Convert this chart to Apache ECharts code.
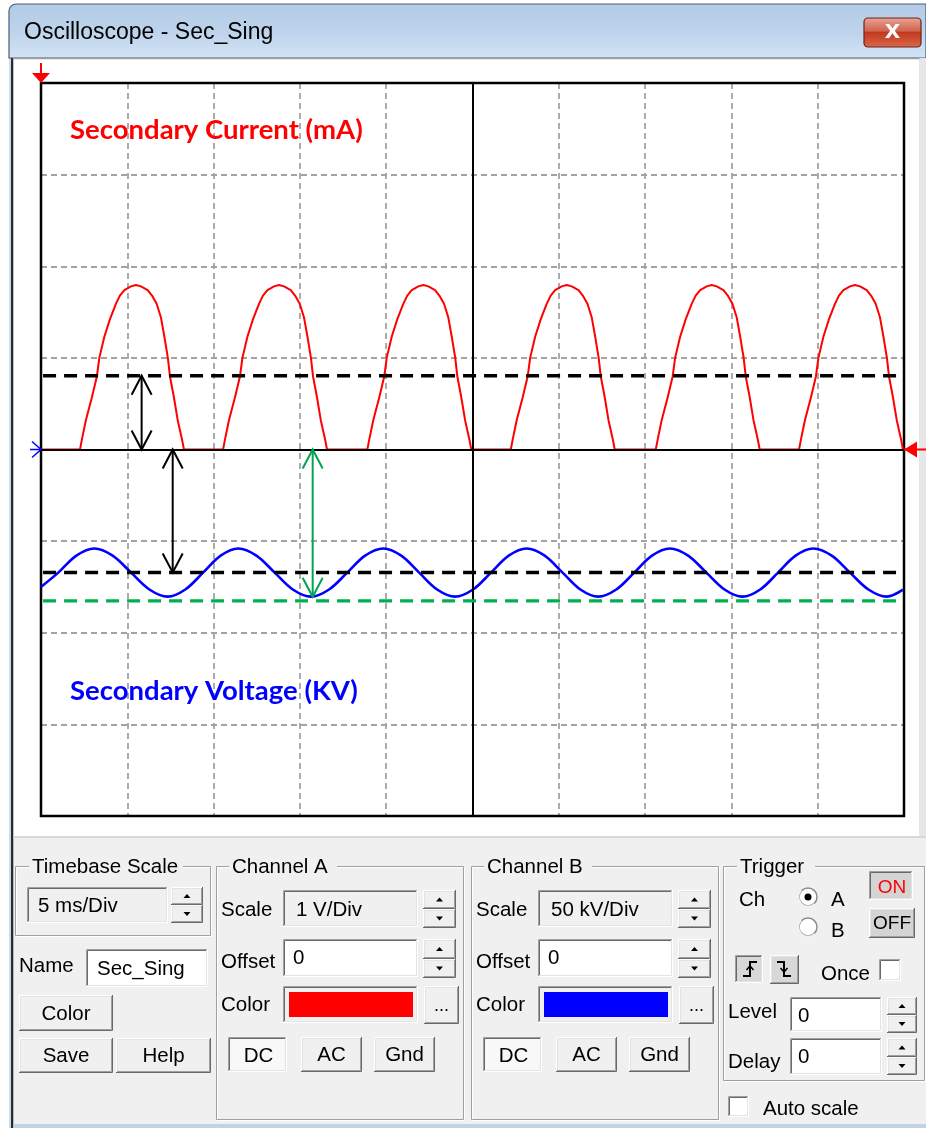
<!DOCTYPE html>
<html>
<head>
<meta charset="utf-8">
<script src="https://cdn.jsdelivr.net/npm/echarts@6/dist/echarts.min.js"></script>
<style>
html,body{margin:0;padding:0;background:#fff;}
#chart{width:926px;height:1128px;}
</style>
</head>
<body>
<div id="chart"></div>
<script>
// ---------------- DATA ----------------
// Time axis: 5 ms/Div, 10 divisions
const timeMin = 0, timeMax = 50, timeStep = 5;
// Channel A (current) in divisions, Channel B (voltage) in kV (50 kV/Div)
const chanAMin = -4, chanAMax = 4, chanAStep = 1;
const chanBMin = -200, chanBMax = 200, chanBStep = 50;

// Secondary current (channel A, red) - time in ms
const currentTime = [
  0,
  2.26, 2.37, 2.60, 2.95, 3.24, 3.38, 3.67, 3.99, 4.34, 4.57, 4.83, 5.21, 5.50, 5.79, 6.18, 6.43, 6.70, 6.95, 7.15, 7.35, 7.47, 7.70, 7.92, 8.17, 8.28,
  10.55, 10.66, 10.89, 11.24, 11.53, 11.67, 11.96, 12.28, 12.63, 12.86, 13.12, 13.50, 13.79, 14.08, 14.47, 14.72, 14.99, 15.24, 15.44, 15.64, 15.76, 15.99, 16.21, 16.46, 16.57,
  18.91, 19.02, 19.25, 19.60, 19.89, 20.03, 20.32, 20.64, 20.99, 21.22, 21.48, 21.86, 22.15, 22.44, 22.83, 23.08, 23.35, 23.60, 23.80, 24.00, 24.12, 24.35, 24.57, 24.82, 24.93,
  27.22, 27.33, 27.56, 27.91, 28.20, 28.34, 28.63, 28.95, 29.30, 29.53, 29.79, 30.17, 30.46, 30.75, 31.14, 31.39, 31.66, 31.91, 32.11, 32.31, 32.43, 32.66, 32.88, 33.13, 33.24,
  35.62, 35.73, 35.96, 36.31, 36.60, 36.74, 37.03, 37.35, 37.70, 37.93, 38.19, 38.57, 38.86, 39.15, 39.54, 39.79, 40.06, 40.31, 40.51, 40.71, 40.83, 41.06, 41.28, 41.53, 41.64,
  43.92, 44.03, 44.26, 44.61, 44.90, 45.04, 45.33, 45.65, 46.00, 46.23, 46.49, 46.87, 47.16, 47.45, 47.84, 48.09, 48.36, 48.61, 48.81, 49.01, 49.13, 49.36, 49.58, 49.83, 49.94
];
const currentValue = [
  0,
  0, 0.11, 0.32, 0.57, 0.80, 1.00, 1.23, 1.42, 1.59, 1.68, 1.74, 1.78, 1.795, 1.78, 1.74, 1.68, 1.59, 1.44, 1.23, 1.00, 0.80, 0.57, 0.32, 0.11, 0,
  0, 0.11, 0.32, 0.57, 0.80, 1.00, 1.23, 1.42, 1.59, 1.68, 1.74, 1.78, 1.795, 1.78, 1.74, 1.68, 1.59, 1.44, 1.23, 1.00, 0.80, 0.57, 0.32, 0.11, 0,
  0, 0.11, 0.32, 0.57, 0.80, 1.00, 1.23, 1.42, 1.59, 1.68, 1.74, 1.78, 1.795, 1.78, 1.74, 1.68, 1.59, 1.44, 1.23, 1.00, 0.80, 0.57, 0.32, 0.11, 0,
  0, 0.11, 0.32, 0.57, 0.80, 1.00, 1.23, 1.42, 1.59, 1.68, 1.74, 1.78, 1.795, 1.78, 1.74, 1.68, 1.59, 1.44, 1.23, 1.00, 0.80, 0.57, 0.32, 0.11, 0,
  0, 0.11, 0.32, 0.57, 0.80, 1.00, 1.23, 1.42, 1.59, 1.68, 1.74, 1.78, 1.795, 1.78, 1.74, 1.68, 1.59, 1.44, 1.23, 1.00, 0.80, 0.57, 0.32, 0.11, 0,
  0, 0.11, 0.32, 0.57, 0.80, 1.00, 1.23, 1.42, 1.59, 1.68, 1.74, 1.78, 1.795, 1.78, 1.74, 1.68, 1.59, 1.44, 1.23, 1.00, 0.80, 0.57, 0.32, 0.11, 0
];

// Secondary voltage (channel B, blue) - time in ms, value in kV
const voltageTime = [
  0, 1.00, 2.05, 3.09, 4.15, 5.22, 6.28, 7.34, 8.36, 9.39, 10.41, 11.43, 12.48, 13.54, 14.59, 15.64,
  16.69, 17.74, 18.78, 19.83, 20.87, 21.91, 22.95, 23.99, 25.03, 26.07, 27.10, 28.14, 29.18, 30.22, 31.25, 32.29,
  33.33, 34.37, 35.40, 36.44, 37.49, 38.55, 39.60, 40.65, 41.67, 42.70, 43.72, 44.74, 45.81, 46.87, 47.94, 49.00, 49.94
];
const voltageValue = [
  -75.0, -67.2, -57.9, -54.0, -57.9, -67.2, -76.4, -80.3, -76.4, -67.2, -57.9, -54.0, -57.9, -67.2, -76.4, -80.3,
  -76.4, -67.2, -57.9, -54.0, -57.9, -67.2, -76.4, -80.3, -76.4, -67.2, -57.9, -54.0, -57.9, -67.2, -76.4, -80.3,
  -76.4, -67.2, -57.9, -54.0, -57.9, -67.2, -76.4, -80.3, -76.4, -67.2, -57.9, -54.0, -57.9, -67.2, -76.4, -80.3, -76.5
];

// Reference levels (dashed lines)
const currentMeanLevel = 0.805;   // channel A divisions
const voltageMeanLevel = -67.1;   // kV
const voltageMinLevel = -82.6;    // kV
const refLineStart = 0.12, refLineEnd = 49.6;

// Double arrows: [time, from, to]
const currentArrow = [[5.83, 0, 0.805]];
const voltageArrow = [[7.63, 0, -67.1]];
const troughArrow = [[15.74, 0, -80.4]];

// Texts
const titleText = 'Oscilloscope - Sec_Sing';
const currentLabel = 'Secondary Current (mA)';
const voltageLabel = 'Secondary Voltage (KV)';

// ---------------- CHART ----------------
const chart = echarts.init(document.getElementById('chart'), null, {renderer: 'canvas'});
const zip = (a, b) => a.map((v, i) => [v, b[i]]);

const UIFONT = '"Liberation Sans", Arial, sans-serif';
const G = [];
function R(x, y, w, h, fill, z, extra) {
  G.push({type: 'rect', silent: true, z: z == null ? -5 : z, shape: Object.assign({x, y, width: w, height: h}, extra && extra.shape || {}),
    style: Object.assign({fill: fill}, extra && extra.style || {})});
}
function L(points, stroke, lw, z) {
  G.push({type: 'polyline', silent: true, z: z == null ? -4 : z, shape: {points}, style: {stroke, lineWidth: lw || 1, fill: null}});
}
function P(points, fill, z) {
  G.push({type: 'polygon', silent: true, z: z == null ? -4 : z, shape: {points}, style: {fill}});
}
function T(x, y, text, opt) {
  const o = Object.assign({size: 20.5, color: '#000', align: 'left', weight: 'normal', family: UIFONT, z: -3}, opt || {});
  G.push({type: 'text', silent: true, z: o.z, x, y, style: {
    text, fill: o.color, font: o.weight + ' ' + o.size + 'px ' + o.family,
    align: o.align, textAlign: o.align, verticalAlign: 'middle', textVerticalAlign: 'middle'}});
}
function raised(x, y, w, h, face) {
  R(x, y, w, h, face || '#f0f0f0');
  L([[x + 0.5, y + h - 1], [x + 0.5, y + 0.5], [x + w - 1, y + 0.5]], '#ffffff');
  L([[x + 1.5, y + h - 2], [x + 1.5, y + 1.5], [x + w - 2, y + 1.5]], '#e3e3e3');
  L([[x, y + h - 0.5], [x + w - 0.5, y + h - 0.5], [x + w - 0.5, y]], '#696969');
  L([[x + 1, y + h - 1.5], [x + w - 1.5, y + h - 1.5], [x + w - 1.5, y + 1]], '#a0a0a0');
}
function sunken(x, y, w, h, fill) {
  R(x, y, w, h, fill || '#ffffff');
  L([[x + 0.5, y + h - 1], [x + 0.5, y + 0.5], [x + w - 1, y + 0.5]], '#a0a0a0');
  L([[x + 1.5, y + h - 2], [x + 1.5, y + 1.5], [x + w - 2, y + 1.5]], '#696969');
  L([[x, y + h - 0.5], [x + w - 0.5, y + h - 0.5], [x + w - 0.5, y]], '#ffffff');
  L([[x + 1, y + h - 1.5], [x + w - 1.5, y + h - 1.5], [x + w - 1.5, y + 1]], '#e3e3e3');
}
function button(x, y, w, h, label, opt) {
  raised(x, y, w, h, opt && opt.face);
  T(x + w / 2, y + h / 2 + 1, label, Object.assign({align: 'center'}, opt || {}));
}
function pressed(x, y, w, h, label, opt) {
  sunken(x, y, w, h, (opt && opt.face) || '#f8f8f8');
  T(x + w / 2 + 1, y + h / 2 + 2, label, Object.assign({align: 'center'}, opt || {}));
}
function spin(x, y, w, h) {
  const h2 = Math.round(h / 2);
  raised(x, y, w, h2);
  raised(x, y + h2, w, h - h2);
  const cx = x + w / 2;
  P([[cx - 3.5, y + h2 / 2 + 2], [cx + 3.5, y + h2 / 2 + 2], [cx, y + h2 / 2 - 2]], '#000');
  P([[cx - 3.5, y + h2 + (h - h2) / 2 - 2], [cx + 3.5, y + h2 + (h - h2) / 2 - 2], [cx, y + h2 + (h - h2) / 2 + 2]], '#000');
}
function groupBox(x, y, w, h, label, labelX, labelW) {
  G.push({type: 'rect', silent: true, z: -4, shape: {x: x + 1.5, y: y + 1.5, width: w, height: h}, style: {fill: null, stroke: '#ffffff', lineWidth: 1}});
  G.push({type: 'rect', silent: true, z: -4, shape: {x: x + 0.5, y: y + 0.5, width: w, height: h}, style: {fill: null, stroke: '#a0a0a0', lineWidth: 1}});
  R(labelX - 3, y - 10, labelW + 6, 20, '#f0f0f0', -3.5);
  T(labelX, y + 1, label);
}
function checkbox(x, y, s) { sunken(x, y, s, s, '#ffffff'); }

// ---- window chrome ----
R(0, 0, 926, 1128, '#ffffff', -10);
R(9, 4, 917, 1124, '#c9dbee', -9, {shape: {r: [7, 0, 0, 0]}});
G.push({type: 'rect', silent: true, z: -8, shape: {x: 9, y: 4, width: 917, height: 54, r: [7, 0, 0, 0]},
  style: {fill: new echarts.graphic.LinearGradient(0, 0, 0, 1, [{offset: 0, color: '#b3cbe6'}, {offset: 0.5, color: '#bdd3eb'}, {offset: 1, color: '#d3e3f4'}]),
    stroke: '#4c5d70', lineWidth: 1.2}});
T(24, 33, titleText, {size: 23, z: -3});
// close button
G.push({type: 'rect', silent: true, z: -3, shape: {x: 864, y: 18, width: 57, height: 29, r: 4},
  style: {fill: new echarts.graphic.LinearGradient(0, 0, 0, 1, [{offset: 0, color: '#e8a597'}, {offset: 0.45, color: '#d0654f'}, {offset: 0.5, color: '#c2391f'}, {offset: 1, color: '#d96a4a'}]),
    stroke: '#6e2418', lineWidth: 1.2}});
T(892.5, 33, 'X', {size: 20, weight: 'bold', color: '#ffffff', align: 'center', z: -2, family: '"DejaVu Sans", sans-serif'});
// dark left frame line & panels
R(11, 58, 2.5, 1070, '#2b2b2b', -7);
R(13.5, 58, 906, 778, '#ffffff', -7);
R(13.5, 58, 906, 1.2, '#a0a0a0', -6);
R(919, 58, 7, 778, '#e6e6e6', -7);
R(13.5, 836, 912.5, 292, '#f0f0f0', -7);
R(13.5, 836, 912.5, 2, '#d8d8d8', -6);
R(13.5, 1124, 912.5, 4, '#c3d3e4', -6);

// ---- control panel ----
groupBox(15, 866, 195, 69, 'Timebase Scale', 32, 148);
sunken(27, 887, 141, 36, '#f0f0f0');
T(38, 906, '5 ms/Div');
spin(171, 887, 32, 36);
T(19, 966, 'Name');
sunken(86, 949, 122, 38, '#ffffff');
T(97, 969, 'Sec_Sing');
button(19, 995, 94, 36, 'Color');
button(19, 1038, 94, 35, 'Save');
button(116, 1038, 95, 35, 'Help');

function channel(x0, label, scaleText, color) {
  groupBox(x0, 866, 247, 253, label, x0 + 16, 102);
  T(x0 + 5, 910, 'Scale');
  sunken(x0 + 67, 890, 135, 37, '#f0f0f0');
  T(x0 + 80, 910, scaleText);
  spin(x0 + 207, 890, 33, 38);
  T(x0 + 5, 962, 'Offset');
  sunken(x0 + 67, 939, 135, 38, '#ffffff');
  T(x0 + 77, 958, '0');
  spin(x0 + 207, 939, 33, 39);
  T(x0 + 5, 1005, 'Color');
  sunken(x0 + 67, 986, 135, 37, '#f0f0f0');
  R(x0 + 73, 992, 124, 25, color, -2);
  button(x0 + 208, 986, 35, 38, '...', {size: 18});
  pressed(x0 + 12, 1037, 59, 35, 'DC');
  button(x0 + 85, 1037, 61, 35, 'AC');
  button(x0 + 158, 1037, 61, 35, 'Gnd');
}
channel(216, 'Channel A', '1 V/Div', '#ff0000');
channel(471, 'Channel B', '50 kV/Div', '#0000ff');

// trigger
groupBox(723, 866, 201, 214, 'Trigger', 740, 72);
T(739, 900, 'Ch');
function radio(cx, cy, on) {
  G.push({type: 'circle', silent: true, z: -3, shape: {cx, cy, r: 9}, style: {fill: '#ffffff', stroke: '#8c8c8c', lineWidth: 1.5}});
  G.push({type: 'arc', silent: true, z: -2, shape: {cx, cy, r: 9.5, startAngle: Math.PI * 0.25, endAngle: Math.PI * 1.25, clockwise: true}, style: {stroke: '#f4f4f4', lineWidth: 1.5, fill: null}});
  if (on) G.push({type: 'circle', silent: true, z: -2, shape: {cx, cy, r: 3.5}, style: {fill: '#000'}});
}
radio(808, 897, true);
T(831, 900, 'A');
radio(808, 927, false);
T(831, 931, 'B');
pressed(869, 871, 44, 29, 'ON', {color: '#ff0000', face: '#d4d4d4', size: 19, family: '"Liberation Sans Narrow", "Liberation Sans", sans-serif'});
button(869, 908, 46, 30, 'OFF', {face: '#d4d4d4', size: 19, family: '"Liberation Sans Narrow", "Liberation Sans", sans-serif'});
sunken(735, 955, 28, 28, '#d8d8d8');
L([[743, 976], [750, 976], [750, 962], [757, 962]], '#000', 2, -2);
L([[746.5, 970], [750, 966], [753.5, 970]], '#000', 1.5, -2);
raised(770, 955, 29, 29, '#d8d8d8');
L([[777, 962], [784, 962], [784, 976], [791, 976]], '#000', 2, -2);
L([[780.5, 968], [784, 972], [787.5, 968]], '#000', 1.5, -2);
T(821, 974, 'Once');
checkbox(879, 959, 22);
T(728, 1012, 'Level');
sunken(790, 997, 92, 35, '#ffffff');
T(798, 1016, '0');
spin(887, 997, 30, 36);
T(728, 1062, 'Delay');
sunken(790, 1038, 92, 37, '#ffffff');
T(798, 1057, '0');
spin(887, 1038, 30, 37);
checkbox(728, 1096, 21);
T(763, 1109, 'Auto scale');

// ---- annotation texts inside the plot ----
T(70, 130, currentLabel, {size: 27.5, weight: 'bold', color: '#ff0000', family: 'Lato, "Open Sans", sans-serif', z: 50});
T(70, 691, voltageLabel, {size: 27.5, weight: 'bold', color: '#0000ff', family: 'Lato, "Open Sans", sans-serif', z: 50});

function arrowRender(color) {
  return function (params, api) {
    const t = api.value(0), a = api.value(1), b = api.value(2);
    const p1 = api.coord([t, a]), p2 = api.coord([t, b]);
    const s1 = p2[1] > p1[1] ? 1 : -1;
    const st = {stroke: color, lineWidth: 2, fill: null};
    return {type: 'group', children: [
      {type: 'line', shape: {x1: p1[0], y1: p1[1], x2: p2[0], y2: p2[1]}, style: st},
      {type: 'polyline', shape: {points: [[p1[0] - 10, p1[1] + s1 * 19], p1, [p1[0] + 10, p1[1] + s1 * 19]]}, style: st},
      {type: 'polyline', shape: {points: [[p2[0] - 10, p2[1] - s1 * 19], p2, [p2[0] + 10, p2[1] - s1 * 19]]}, style: st}
    ]};
  };
}
const gridLine = {show: true, lineStyle: {color: '#a3a3a3', width: 1.8, type: [6, 4]}, showMinLine: false, showMaxLine: false};

const option = {
  animation: false,
  backgroundColor: '#ffffff',
  grid: {left: 41, top: 83, width: 863, height: 733, show: true, backgroundColor: 'rgba(0,0,0,0)', borderColor: '#000', borderWidth: 2.5, z: 3},
  xAxis: {type: 'value', min: timeMin, max: timeMax, interval: timeStep,
    axisLine: {show: false}, axisTick: {show: false}, axisLabel: {show: false}, splitLine: gridLine},
  yAxis: [
    {type: 'value', min: chanAMin, max: chanAMax, interval: chanAStep,
      axisLine: {show: false}, axisTick: {show: false}, axisLabel: {show: false}, splitLine: gridLine},
    {type: 'value', min: chanBMin, max: chanBMax, interval: chanBStep,
      axisLine: {show: false}, axisTick: {show: false}, axisLabel: {show: false}, splitLine: {show: false}}
  ],
  graphic: {elements: G},
  series: [
    {type: 'line', data: [], z: 1, silent: true,
      markLine: {silent: true, symbol: 'none', label: {show: false},
        lineStyle: {color: '#000', width: 2, type: 'solid'},
        data: [{xAxis: (timeMin + timeMax) / 2}, {yAxis: 0}]}},
    {type: 'line', name: 'Secondary Current', data: zip(currentTime, currentValue), xAxisIndex: 0, yAxisIndex: 0,
      showSymbol: false, symbol: 'none', lineStyle: {color: '#ff0000', width: 2}, z: 4, silent: true},
    {type: 'line', name: 'Secondary Voltage', data: zip(voltageTime, voltageValue), xAxisIndex: 0, yAxisIndex: 1,
      showSymbol: false, symbol: 'none', smooth: 0.35, lineStyle: {color: '#0000ff', width: 2.6}, z: 4, silent: true},
    {type: 'line', data: [[refLineStart, currentMeanLevel], [refLineEnd, currentMeanLevel]], yAxisIndex: 0,
      symbol: 'none', lineStyle: {color: '#000', width: 3.5, type: [13, 8]}, z: 5, silent: true},
    {type: 'line', data: [[refLineStart, voltageMeanLevel], [refLineEnd, voltageMeanLevel]], yAxisIndex: 1,
      symbol: 'none', lineStyle: {color: '#000', width: 3.5, type: [13, 8]}, z: 5, silent: true},
    {type: 'line', data: [[refLineStart, voltageMinLevel], [refLineEnd, voltageMinLevel]], yAxisIndex: 1,
      symbol: 'none', lineStyle: {color: '#00b050', width: 3.2, type: [13, 8]}, z: 5, silent: true},
    {type: 'custom', data: currentArrow, xAxisIndex: 0, yAxisIndex: 0, encode: {x: 0, y: [1, 2]}, renderItem: arrowRender('#000'), z: 6, silent: true},
    {type: 'custom', data: voltageArrow, xAxisIndex: 0, yAxisIndex: 1, encode: {x: 0, y: [1, 2]}, renderItem: arrowRender('#000'), z: 6, silent: true},
    {type: 'custom', data: troughArrow, xAxisIndex: 0, yAxisIndex: 1, encode: {x: 0, y: [1, 2]}, renderItem: arrowRender('#00a550'), z: 6, silent: true}
  ]
};
chart.setOption(option);

// channel / trigger markers placed through the chart's own coordinate system
const topLeft = chart.convertToPixel({gridIndex: 0}, [timeMin, chanAMax]);
const zeroLeft = chart.convertToPixel({gridIndex: 0}, [timeMin, 0]);
const zeroRight = chart.convertToPixel({gridIndex: 0}, [timeMax, 0]);
const M = [];
M.push({type: 'line', silent: true, z: 60, shape: {x1: topLeft[0], y1: topLeft[1] - 20, x2: topLeft[0], y2: topLeft[1] - 8}, style: {stroke: '#ff0000', lineWidth: 2}});
M.push({type: 'polygon', silent: true, z: 60, shape: {points: [[topLeft[0] - 9, topLeft[1] - 10], [topLeft[0] + 9, topLeft[1] - 10], [topLeft[0], topLeft[1]]]}, style: {fill: '#ff0000'}});
M.push({type: 'line', silent: true, z: 60, shape: {x1: zeroLeft[0] - 11, y1: zeroLeft[1], x2: zeroLeft[0], y2: zeroLeft[1]}, style: {stroke: '#0000ff', lineWidth: 1.5}});
M.push({type: 'polyline', silent: true, z: 60, shape: {points: [[zeroLeft[0] - 9, zeroLeft[1] - 8], [zeroLeft[0], zeroLeft[1]], [zeroLeft[0] - 9, zeroLeft[1] + 8]]}, style: {stroke: '#0000ff', lineWidth: 1.5, fill: null}});
M.push({type: 'line', silent: true, z: 60, shape: {x1: zeroRight[0], y1: zeroRight[1], x2: 926, y2: zeroRight[1]}, style: {stroke: '#ff0000', lineWidth: 2}});
M.push({type: 'polygon', silent: true, z: 60, shape: {points: [[zeroRight[0], zeroRight[1]], [zeroRight[0] + 13, zeroRight[1] - 8], [zeroRight[0] + 13, zeroRight[1] + 8]]}, style: {fill: '#ff0000'}});
chart.setOption({graphic: {elements: G.concat(M)}});
</script>
</body>
</html>
